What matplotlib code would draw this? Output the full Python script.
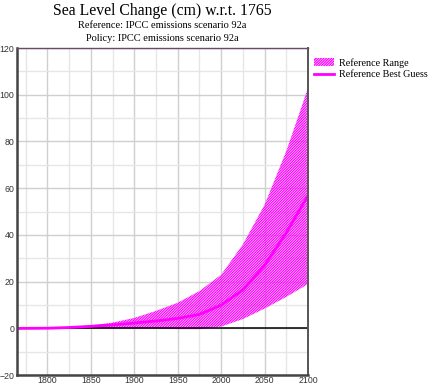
import matplotlib
matplotlib.use('Agg')
import matplotlib.pyplot as plt
from matplotlib.ticker import MultipleLocator, FixedLocator

years = [1765, 1800, 1825, 1850, 1875, 1900, 1925, 1950, 1975, 2000, 2025, 2050, 2075, 2100]
best_guess = [0, 0.1, 0.4, 0.9, 1.5, 2.3, 3.2, 4.3, 6.0, 10, 16.5, 27, 41, 57]
range_upper = [0, 0.2, 0.6, 1.3, 2.5, 4.5, 7.5, 11, 16, 23, 36, 53, 76, 103]
range_lower = [0, 0, 0, 0, 0, 0, 0, -0.3, -0.3, 0.8, 4, 8.5, 13.5, 19]

x_ticks = [1800, 1850, 1900, 1950, 2000, 2050, 2100]
x_minor = [1775, 1825, 1875, 1925, 1975, 2025, 2075]

MAGENTA = '#ff00ff'

plt.rcParams['hatch.linewidth'] = 0.9
plt.rcParams['hatch.color'] = MAGENTA

fig = plt.figure(figsize=(4.3, 3.84), dpi=100)
ax = fig.add_axes([0.0395, 0.023, 0.677, 0.852])

ax.fill_between(years, range_lower, range_upper, facecolor='none',
                edgecolor=MAGENTA, hatch='/' * 13, linewidth=0,
                label='Reference Range')
ax.plot(years, best_guess, color=MAGENTA, linewidth=2,
        label='Reference Best Guess')
ax.axhline(0, color='black', linewidth=1.1, zorder=1)

ax.set_xlim(1765, 2100)
ax.set_ylim(-20, 120)
ax.xaxis.set_major_locator(FixedLocator(x_ticks))
ax.xaxis.set_minor_locator(FixedLocator(x_minor))
ax.yaxis.set_major_locator(MultipleLocator(20))
ax.yaxis.set_minor_locator(MultipleLocator(10))
ax.grid(which='major', color='#cfcfcf', linewidth=1, zorder=0)
ax.grid(which='minor', color='#e6e6e6', linewidth=1, zorder=0)
ax.set_axisbelow(True)

ax.tick_params(which='both', length=0, labelsize=6.3)
ax.tick_params(axis='x', pad=0.3)
ax.tick_params(axis='y', pad=2)
for lab in ax.get_xticklabels() + ax.get_yticklabels():
    lab.set_family('Liberation Sans')
    lab.set_color('#333333')

for side in ['left', 'bottom']:
    ax.spines[side].set_color('#444444')
    ax.spines[side].set_linewidth(1.8)
ax.spines['right'].set_color('#555555')
ax.spines['right'].set_linewidth(1.4)
ax.spines['top'].set_color('#6a4a6a')
ax.spines['top'].set_linewidth(1.0)

fig.text(0.378, 0.972, 'Sea Level Change (cm) w.r.t. 1765', ha='center', va='center',
         family='Liberation Serif', fontsize=11.3)
fig.text(0.378, 0.933, 'Reference: IPCC emissions scenario 92a', ha='center', va='center',
         family='Liberation Serif', fontsize=7.5)
fig.text(0.378, 0.899, 'Policy: IPCC emissions scenario 92a', ha='center', va='center',
         family='Liberation Serif', fontsize=7.5)

fig.legend(loc='upper left', bbox_to_anchor=(0.72, 0.86), frameon=False,
           prop={'family': 'Liberation Serif', 'size': 7.3},
           handlelength=2.0, handletextpad=0.5, labelspacing=0.25,
           borderaxespad=0)

fig.savefig('out.png', dpi=100)
